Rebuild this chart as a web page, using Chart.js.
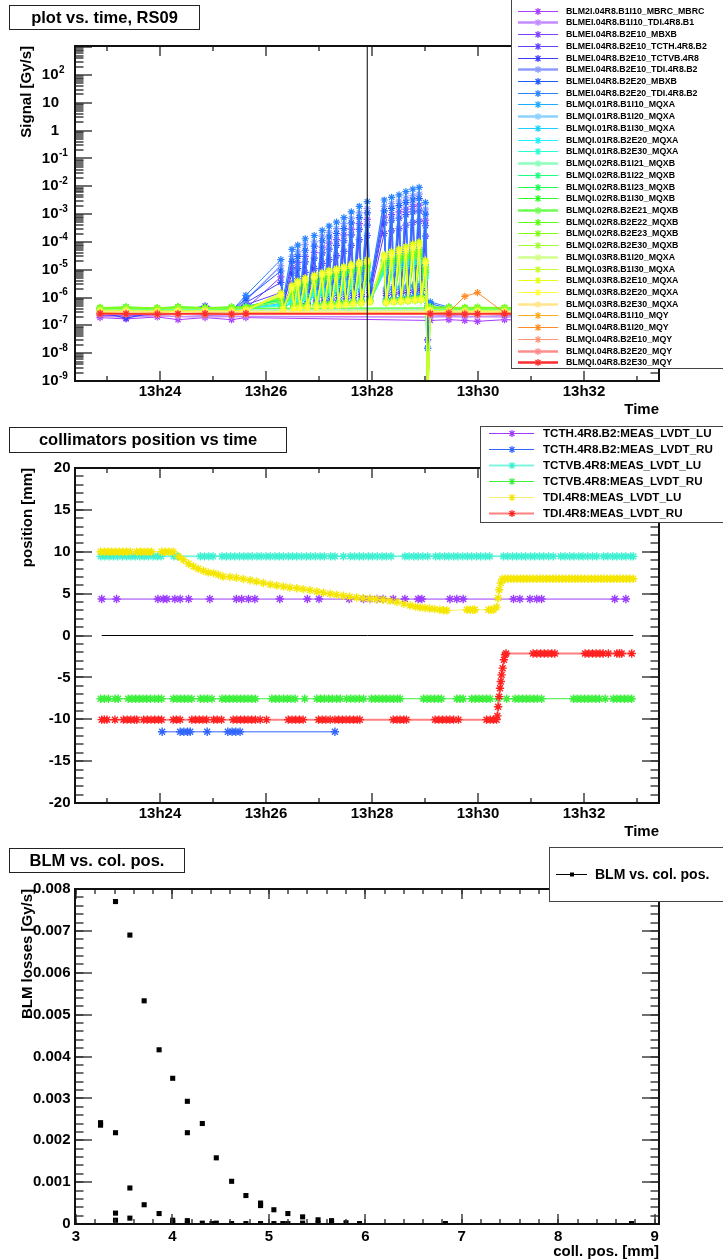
<!DOCTYPE html>
<html>
<head>
<meta charset="utf-8">
<script src="https://cdn.jsdelivr.net/npm/chart.js@4.4.0/dist/chart.umd.min.js"></script>
<style>
  html, body { margin: 0; padding: 0; background: #fff; }
  #wrap { position: relative; width: 723px; height: 1260px; overflow: hidden; }
  canvas { position: absolute; left: 0; }
</style>
</head>
<body>
<div id="wrap">
  <canvas id="sigChart" width="723" height="420" style="top:0"></canvas>
  <canvas id="posChart" width="723" height="420" style="top:420px"></canvas>
  <canvas id="lossChart" width="723" height="420" style="top:840px"></canvas>
</div>
<script>
// times are minutes after 13h00

// ---------- panel 1 : BLM signal vs time ----------
var blmNames = [
  'BLM2I.04R8.B1I10_MBRC_MBRC', 'BLMEI.04R8.B1I10_TDI.4R8.B1', 'BLMEI.04R8.B2E10_MBXB',
  'BLMEI.04R8.B2E10_TCTH.4R8.B2', 'BLMEI.04R8.B2E10_TCTVB.4R8', 'BLMEI.04R8.B2E10_TDI.4R8.B2',
  'BLMEI.04R8.B2E20_MBXB', 'BLMEI.04R8.B2E20_TDI.4R8.B2', 'BLMQI.01R8.B1I10_MQXA',
  'BLMQI.01R8.B1I20_MQXA', 'BLMQI.01R8.B1I30_MQXA', 'BLMQI.01R8.B2E20_MQXA', 'BLMQI.01R8.B2E30_MQXA',
  'BLMQI.02R8.B1I21_MQXB', 'BLMQI.02R8.B1I22_MQXB', 'BLMQI.02R8.B1I23_MQXB', 'BLMQI.02R8.B1I30_MQXB',
  'BLMQI.02R8.B2E21_MQXB', 'BLMQI.02R8.B2E22_MQXB', 'BLMQI.02R8.B2E23_MQXB', 'BLMQI.02R8.B2E30_MQXB',
  'BLMQI.03R8.B1I20_MQXA', 'BLMQI.03R8.B1I30_MQXA', 'BLMQI.03R8.B2E10_MQXA', 'BLMQI.03R8.B2E20_MQXA',
  'BLMQI.03R8.B2E30_MQXA', 'BLMQI.04R8.B1I10_MQY', 'BLMQI.04R8.B1I20_MQY', 'BLMQI.04R8.B2E10_MQY',
  'BLMQI.04R8.B2E20_MQY', 'BLMQI.04R8.B2E30_MQY'
];
var blmColors = ['#a83cff', '#c48cff', '#8040ff', '#6440ff', '#3c3cff', '#8c9cff', '#1e5aff', '#2a84ff',
  '#1eaaff', '#8cd2ff', '#1ed2ff', '#1ef0ff', '#28ffd2', '#8cffbe', '#1eff82', '#1eff50', '#32ff28',
  '#6eff50', '#5aff14', '#82ff14', '#a0ff32', '#d2ff8c', '#c8ff28', '#e6ff14', '#ffff3c', '#ffe68c',
  '#ffaa1e', '#ff8c28', '#ff9678', '#ff8c8c', '#ff2d2d'];
var blmWidths = [1, 2.5, 1, 1, 1, 2.5, 1, 1, 1, 2.5, 1, 1, 1, 2.5, 1, 1, 1, 2.5, 1, 1, 1, 2.5, 1, 1, 1, 2.5, 1, 1, 1, 2.5, 2.5];

var tBefore = [22.87, 23.36, 23.95, 24.34, 24.85, 25.35, 25.62];
var tPeak = [26.28, 26.49, 26.6, 26.74, 26.91, 27.06, 27.19, 27.33, 27.47, 27.61, 27.76, 27.91, 28.23, 28.37, 28.51, 28.64, 28.77, 28.89, 29.01];
var tTrough = [26.32, 26.53, 26.64, 26.78, 26.95, 27.1, 27.23, 27.37, 27.51, 27.65, 27.8, 27.96, 28.27, 28.41, 28.55, 28.68, 28.81, 28.93, 29.05];
var tAfter = [29.1, 29.45, 29.75, 29.99, 30.5, 31.1, 31.7, 32.3, 33.0];

var blmBefore = [
  [1.9e-7, 1.7e-7, 2.0e-7, 1.6e-7, 1.9e-7, 1.6e-7, 1.9e-7],
  [2.1e-7, 2.0e-7, 2.2e-7, 2.1e-7, 2.0e-7, 2.1e-7, 2.1e-7],
  [2.3e-7, 2.2e-7, 2.4e-7, 2.5e-7, 2.3e-7, 2.4e-7, 4.0e-7],
  [2.6e-7, 2.5e-7, 2.8e-7, 2.6e-7, 2.7e-7, 2.9e-7, 5.5e-7],
  [3.0e-7, 1.8e-7, 3.1e-7, 3.2e-7, 5.0e-7, 3.0e-7, 6.5e-7],
  [3.1e-7, 3.2e-7, 3.0e-7, 3.3e-7, 3.1e-7, 3.0e-7, 8.0e-7],
  [3.0e-7, 3.1e-7, 3.3e-7, 3.0e-7, 3.2e-7, 3.4e-7, 9.0e-7],
  [3.2e-7, 3.3e-7, 3.2e-7, 3.4e-7, 3.3e-7, 3.3e-7, 1.2e-6],
  [3.4e-7, 3.5e-7, 3.3e-7, 3.6e-7, 3.4e-7, 3.5e-7, 5.0e-7],
  [3.5e-7, 3.6e-7, 3.5e-7, 3.4e-7, 3.6e-7, 3.5e-7, 3.6e-7],
  [3.6e-7, 3.5e-7, 3.7e-7, 3.6e-7, 3.5e-7, 3.7e-7, 4.2e-7],
  [3.7e-7, 3.8e-7, 3.6e-7, 3.7e-7, 3.8e-7, 3.6e-7, 4.0e-7],
  [3.8e-7, 3.9e-7, 3.8e-7, 3.7e-7, 3.9e-7, 3.8e-7, 4.1e-7],
  [4.0e-7, 4.4e-7, 4.0e-7, 4.5e-7, 4.1e-7, 4.4e-7, 4.0e-7],
  [4.1e-7, 4.5e-7, 4.1e-7, 4.6e-7, 4.0e-7, 4.5e-7, 4.3e-7],
  [4.2e-7, 4.3e-7, 4.1e-7, 4.4e-7, 4.2e-7, 4.3e-7, 4.4e-7],
  [4.3e-7, 4.6e-7, 4.2e-7, 4.7e-7, 4.3e-7, 4.6e-7, 4.5e-7],
  [3.9e-7, 4.2e-7, 4.0e-7, 4.3e-7, 4.0e-7, 4.2e-7, 4.1e-7],
  [4.1e-7, 4.0e-7, 4.2e-7, 4.1e-7, 4.0e-7, 4.2e-7, 4.1e-7],
  [4.4e-7, 4.5e-7, 4.3e-7, 4.6e-7, 4.4e-7, 4.5e-7, 4.6e-7],
  [3.8e-7, 3.9e-7, 3.8e-7, 4.0e-7, 3.9e-7, 3.8e-7, 4.0e-7],
  [3.4e-7, 3.5e-7, 3.3e-7, 3.5e-7, 3.4e-7, 3.3e-7, 3.4e-7],
  [3.3e-7, 3.2e-7, 3.4e-7, 3.3e-7, 3.2e-7, 3.4e-7, 3.6e-7],
  [3.2e-7, 3.3e-7, 3.1e-7, 3.2e-7, 3.3e-7, 3.2e-7, 3.5e-7],
  [3.1e-7, 3.2e-7, 3.0e-7, 3.1e-7, 3.2e-7, 3.1e-7, 3.4e-7],
  [3.0e-7, 3.1e-7, 3.0e-7, 2.9e-7, 3.1e-7, 3.0e-7, 3.0e-7],
  [2.9e-7, 2.7e-7, 2.8e-7, 2.6e-7, 2.8e-7, 2.7e-7, 2.8e-7],
  [2.7e-7, 2.5e-7, 2.7e-7, 2.6e-7, 2.4e-7, 2.6e-7, 2.7e-7],
  [2.6e-7, 2.7e-7, 2.5e-7, 2.4e-7, 2.6e-7, 2.5e-7, 2.6e-7],
  [2.5e-7, 2.6e-7, 2.4e-7, 2.5e-7, 2.6e-7, 2.4e-7, 2.5e-7],
  [2.6e-7, 2.6e-7, 2.5e-7, 2.6e-7, 2.6e-7, 2.5e-7, 2.6e-7]
];

var blmPeak = [
  null,
  null,
  [5.5e-6, 1.2e-5, 1.8e-5, 3.0e-5, 4.2e-5, 6.5e-5, 9.0e-5, 1.2e-4, 1.8e-4, 2.9e-4, 4.5e-4, 6.5e-4, 7.8e-4, 9.5e-4, 1.2e-3, 1.5e-3, 1.9e-3, 2.1e-3, 6.0e-4],
  [1.5e-6, 3.2e-6, 4.8e-6, 8.0e-6, 1.1e-5, 1.7e-5, 2.3e-5, 3.2e-5, 4.6e-5, 7.5e-5, 1.2e-4, 1.7e-4, 2.0e-4, 2.5e-4, 3.0e-4, 4.0e-4, 5.0e-4, 5.5e-4, 1.6e-4],
  [3.5e-6, 7.5e-6, 1.1e-5, 1.9e-5, 2.6e-5, 4.0e-5, 5.5e-5, 7.5e-5, 1.1e-4, 1.8e-4, 2.8e-4, 4.0e-4, 4.8e-4, 6.0e-4, 7.2e-4, 9.5e-4, 1.2e-3, 1.3e-3, 3.8e-4],
  [1.4e-5, 3.0e-5, 4.5e-5, 8.0e-5, 1.0e-4, 1.6e-4, 2.2e-4, 3.0e-4, 4.5e-4, 7.0e-4, 1.1e-3, 1.6e-3, 1.9e-3, 2.4e-3, 2.9e-3, 3.8e-3, 4.6e-3, 5.2e-3, 1.5e-3],
  [9.0e-6, 2.0e-5, 3.0e-5, 5.0e-5, 7.0e-5, 1.1e-4, 1.5e-4, 2.0e-4, 3.0e-4, 4.8e-4, 7.5e-4, 1.1e-3, 1.3e-3, 1.6e-3, 2.0e-3, 2.6e-3, 3.2e-3, 3.6e-3, 1.0e-3],
  [2.3e-5, 5.4e-5, 7.6e-5, 1.3e-4, 1.7e-4, 2.6e-4, 3.7e-4, 5.1e-4, 7.4e-4, 1.2e-3, 1.9e-3, 2.8e-3, 3.2e-3, 4.0e-3, 4.9e-3, 6.4e-3, 7.9e-3, 9.1e-3, 2.6e-3],
  [8.0e-7, 1.1e-6, 1.5e-6, 2.0e-6, 2.4e-6, 3.2e-6, 4.0e-6, 5.0e-6, 6.5e-6, 8.5e-6, 1.1e-5, 1.5e-5, 2.0e-5, 2.6e-5, 3.2e-5, 4.0e-5, 4.8e-5, 5.2e-5, 1.5e-5],
  null,
  [6.0e-7, 8.0e-7, 1.1e-6, 1.4e-6, 1.7e-6, 2.1e-6, 2.6e-6, 3.2e-6, 4.0e-6, 5.0e-6, 6.2e-6, 8.0e-6, 1.1e-5, 1.4e-5, 1.7e-5, 2.0e-5, 2.4e-5, 2.6e-5, 8.0e-6],
  [5.5e-7, 7.0e-7, 9.0e-7, 1.2e-6, 1.5e-6, 1.8e-6, 2.2e-6, 2.7e-6, 3.3e-6, 4.1e-6, 5.0e-6, 6.5e-6, 9.0e-6, 1.1e-5, 1.3e-5, 1.6e-5, 1.9e-5, 2.1e-5, 6.0e-6],
  [5.0e-7, 6.5e-7, 8.0e-7, 1.0e-6, 1.3e-6, 1.6e-6, 1.9e-6, 2.3e-6, 2.8e-6, 3.4e-6, 4.2e-6, 5.4e-6, 7.5e-6, 9.0e-6, 1.1e-5, 1.3e-5, 1.6e-5, 1.8e-5, 5.0e-6],
  null,
  [9.0e-7, 1.6e-6, 2.4e-6, 3.0e-6, 3.8e-6, 5.0e-6, 5.5e-6, 6.5e-6, 8.0e-6, 9.5e-6, 1.1e-5, 1.3e-5, 1.6e-5, 2.0e-5, 2.4e-5, 2.8e-5, 3.2e-5, 3.4e-5, 9.0e-6],
  [8.0e-7, 1.3e-6, 2.0e-6, 2.6e-6, 3.4e-6, 4.2e-6, 5.0e-6, 6.0e-6, 7.0e-6, 8.5e-6, 1.0e-5, 1.2e-5, 1.5e-5, 1.8e-5, 2.1e-5, 2.5e-5, 2.9e-5, 3.1e-5, 8.0e-6],
  [1.0e-6, 1.9e-6, 2.8e-6, 3.6e-6, 4.6e-6, 5.8e-6, 7.0e-6, 8.0e-6, 1.0e-5, 1.2e-5, 1.4e-5, 1.7e-5, 2.2e-5, 2.6e-5, 3.0e-5, 3.6e-5, 4.2e-5, 4.5e-5, 1.2e-5],
  [7.0e-7, 1.1e-6, 1.7e-6, 2.2e-6, 2.9e-6, 3.6e-6, 4.4e-6, 5.2e-6, 6.2e-6, 7.5e-6, 8.8e-6, 1.0e-5, 1.3e-5, 1.6e-5, 1.9e-5, 2.2e-5, 2.6e-5, 2.8e-5, 7.0e-6],
  null,
  [9.5e-7, 1.7e-6, 2.6e-6, 3.3e-6, 4.2e-6, 5.4e-6, 6.4e-6, 7.6e-6, 9.2e-6, 1.1e-5, 1.3e-5, 1.5e-5, 1.9e-5, 2.3e-5, 2.7e-5, 3.2e-5, 3.7e-5, 4.0e-5, 1.0e-5],
  [1.1e-6, 2.1e-6, 3.0e-6, 4.0e-6, 5.0e-6, 6.3e-6, 7.5e-6, 9.0e-6, 1.1e-5, 1.3e-5, 1.5e-5, 1.8e-5, 2.4e-5, 2.9e-5, 3.4e-5, 4.0e-5, 4.6e-5, 5.0e-5, 1.3e-5],
  null,
  [1.3e-6, 2.5e-6, 3.5e-6, 4.6e-6, 5.8e-6, 7.2e-6, 8.5e-6, 1.0e-5, 1.2e-5, 1.4e-5, 1.7e-5, 2.0e-5, 3.2e-5, 4.0e-5, 5.0e-5, 6.0e-5, 7.5e-5, 9.0e-5, 2.0e-5],
  [1.5e-6, 2.8e-6, 4.0e-6, 5.2e-6, 6.5e-6, 8.0e-6, 9.5e-6, 1.1e-5, 1.3e-5, 1.6e-5, 1.9e-5, 2.3e-5, 3.6e-5, 4.5e-5, 5.6e-5, 6.8e-5, 8.5e-5, 1.0e-4, 2.2e-5],
  [1.2e-6, 2.2e-6, 3.2e-6, 4.2e-6, 5.3e-6, 6.6e-6, 7.8e-6, 9.2e-6, 1.1e-5, 1.3e-5, 1.6e-5, 1.9e-5, 2.8e-5, 3.4e-5, 4.2e-5, 5.0e-5, 6.0e-5, 7.0e-5, 1.7e-5],
  null, null, null, null, null, null
];

var blmTrough = [
  null,
  null,
  [5e-7, 6e-7, 6e-7, 7e-7, 8e-7, 8e-7, 9e-7, 1.0e-6, 1.1e-6, 1.2e-6, 1.3e-6, 1.8e-6, 1.4e-6, 1.5e-6, 1.6e-6, 1.8e-6, 1.9e-6, 2.1e-6, 4e-7],
  [4e-7, 4.5e-7, 5e-7, 5e-7, 5.5e-7, 6e-7, 6e-7, 6.5e-7, 7e-7, 7.5e-7, 8e-7, 1.1e-6, 9e-7, 1.0e-6, 1.0e-6, 1.1e-6, 1.2e-6, 1.3e-6, 4e-7],
  [5e-7, 5e-7, 6e-7, 6e-7, 7e-7, 7e-7, 8e-7, 8e-7, 9e-7, 1.0e-6, 1.1e-6, 1.5e-6, 1.2e-6, 1.3e-6, 1.4e-6, 1.5e-6, 1.6e-6, 1.8e-6, 3e-8],
  [7e-7, 8e-7, 9e-7, 1.0e-6, 1.1e-6, 1.2e-6, 1.3e-6, 1.4e-6, 1.5e-6, 1.6e-6, 1.8e-6, 2.6e-6, 2.0e-6, 2.1e-6, 2.3e-6, 2.5e-6, 2.7e-6, 2.9e-6, 6e-7],
  [6e-7, 7e-7, 8e-7, 9e-7, 1.0e-6, 1.0e-6, 1.1e-6, 1.2e-6, 1.3e-6, 1.4e-6, 1.6e-6, 2.2e-6, 1.7e-6, 1.9e-6, 2.0e-6, 2.2e-6, 2.4e-6, 2.6e-6, 1.5e-8],
  [8e-7, 9e-7, 1.0e-6, 1.1e-6, 1.2e-6, 1.3e-6, 1.4e-6, 1.5e-6, 1.6e-6, 1.8e-6, 2.0e-6, 3.0e-6, 2.2e-6, 2.4e-6, 2.6e-6, 2.8e-6, 3.0e-6, 3.2e-6, 1.5e-8],
  [4.5e-7, 5e-7, 5e-7, 5.5e-7, 6e-7, 6e-7, 6.5e-7, 7e-7, 7e-7, 7.5e-7, 8e-7, 1.0e-6, 9e-7, 9.5e-7, 1.0e-6, 1.1e-6, 1.1e-6, 1.2e-6, 5e-7],
  null,
  [4.2e-7, 4.5e-7, 4.8e-7, 5e-7, 5.2e-7, 5.5e-7, 5.8e-7, 6e-7, 6.3e-7, 6.6e-7, 7e-7, 8e-7, 7.5e-7, 8e-7, 8.5e-7, 9e-7, 9.5e-7, 1.0e-6, 4.5e-7],
  [4.2e-7, 4.4e-7, 4.6e-7, 4.8e-7, 5e-7, 5.2e-7, 5.4e-7, 5.6e-7, 5.9e-7, 6.2e-7, 6.5e-7, 7.5e-7, 7e-7, 7.4e-7, 7.8e-7, 8.2e-7, 8.6e-7, 9e-7, 1e-10],
  [4.3e-7, 4.5e-7, 4.6e-7, 4.8e-7, 5e-7, 5.1e-7, 5.3e-7, 5.5e-7, 5.7e-7, 6e-7, 6.3e-7, 7e-7, 6.6e-7, 7e-7, 7.3e-7, 7.7e-7, 8e-7, 8.4e-7, 4.2e-7],
  null,
  [4.6e-7, 4.8e-7, 5e-7, 5.2e-7, 5.4e-7, 5.6e-7, 5.8e-7, 6e-7, 6.2e-7, 6.5e-7, 6.8e-7, 7.5e-7, 7e-7, 7.4e-7, 7.8e-7, 8.2e-7, 8.6e-7, 9e-7, 1e-10],
  [4.5e-7, 4.6e-7, 4.8e-7, 5e-7, 5.1e-7, 5.3e-7, 5.5e-7, 5.7e-7, 5.9e-7, 6.1e-7, 6.4e-7, 7e-7, 6.6e-7, 6.9e-7, 7.2e-7, 7.6e-7, 8e-7, 8.4e-7, 4.6e-7],
  [4.8e-7, 5e-7, 5.2e-7, 5.5e-7, 5.7e-7, 6e-7, 6.2e-7, 6.5e-7, 6.8e-7, 7.1e-7, 7.5e-7, 8.5e-7, 7.8e-7, 8.2e-7, 8.6e-7, 9e-7, 9.5e-7, 1.0e-6, 1e-10],
  [4.4e-7, 4.5e-7, 4.7e-7, 4.9e-7, 5e-7, 5.2e-7, 5.4e-7, 5.5e-7, 5.7e-7, 5.9e-7, 6.2e-7, 6.8e-7, 6.4e-7, 6.7e-7, 7e-7, 7.3e-7, 7.6e-7, 8e-7, 4.3e-7],
  null,
  [4.8e-7, 5e-7, 5.2e-7, 5.4e-7, 5.6e-7, 5.8e-7, 6e-7, 6.3e-7, 6.6e-7, 6.9e-7, 7.2e-7, 8e-7, 7.5e-7, 7.9e-7, 8.3e-7, 8.7e-7, 9.2e-7, 9.6e-7, 4.7e-7],
  [4.2e-7, 4.4e-7, 4.6e-7, 4.8e-7, 5e-7, 5.2e-7, 5.4e-7, 5.7e-7, 6e-7, 6.3e-7, 6.6e-7, 7.4e-7, 6.9e-7, 7.3e-7, 7.7e-7, 8.1e-7, 8.5e-7, 8.9e-7, 1e-10],
  null,
  [3.8e-7, 4.0e-7, 4.2e-7, 4.4e-7, 4.6e-7, 4.8e-7, 5e-7, 5.3e-7, 5.6e-7, 5.9e-7, 6.2e-7, 7e-7, 6.5e-7, 6.9e-7, 7.3e-7, 7.7e-7, 8.1e-7, 8.5e-7, 1e-10],
  [3.7e-7, 3.9e-7, 4.1e-7, 4.3e-7, 4.5e-7, 4.7e-7, 4.9e-7, 5.2e-7, 5.5e-7, 5.8e-7, 6.1e-7, 6.8e-7, 6.4e-7, 6.8e-7, 7.2e-7, 7.6e-7, 8e-7, 8.4e-7, 1e-10],
  [3.6e-7, 3.8e-7, 4.0e-7, 4.2e-7, 4.4e-7, 4.6e-7, 4.8e-7, 5.1e-7, 5.4e-7, 5.7e-7, 6.0e-7, 6.7e-7, 6.3e-7, 6.7e-7, 7.1e-7, 7.5e-7, 7.9e-7, 8.3e-7, 3.6e-7],
  null, null, null, null, null, null
];

var blmAfter = [
  [1.5e-7, 1.6e-7, 1.5e-7, 1.4e-7, 1.6e-7, 1.5e-7, 1.6e-7, 1.5e-7, 1.6e-7],
  [2.0e-7, 2.1e-7, 2.0e-7, 2.1e-7, 2.0e-7, 2.1e-7, 2.0e-7, 2.1e-7, 2.0e-7],
  [2.4e-7, 2.3e-7, 2.4e-7, 2.5e-7, 2.3e-7, 2.4e-7, 2.3e-7, 2.4e-7, 2.4e-7],
  [2.6e-7, 2.7e-7, 2.6e-7, 2.5e-7, 2.7e-7, 2.6e-7, 2.7e-7, 2.6e-7, 2.6e-7],
  [3.0e-7, 2.9e-7, 3.0e-7, 3.1e-7, 2.9e-7, 3.0e-7, 3.0e-7, 2.9e-7, 3.0e-7],
  [5.0e-7, 3.3e-7, 3.1e-7, 3.0e-7, 3.2e-7, 3.1e-7, 3.0e-7, 3.1e-7, 3.1e-7],
  [6.0e-7, 4.0e-7, 3.2e-7, 3.1e-7, 3.2e-7, 3.0e-7, 3.2e-7, 3.1e-7, 3.2e-7],
  [7.0e-7, 4.5e-7, 3.4e-7, 3.3e-7, 3.2e-7, 3.3e-7, 3.2e-7, 3.3e-7, 3.3e-7],
  [4.5e-7, 3.6e-7, 3.5e-7, 3.4e-7, 3.5e-7, 3.6e-7, 3.5e-7, 3.4e-7, 3.5e-7],
  [3.6e-7, 3.5e-7, 3.6e-7, 3.5e-7, 3.4e-7, 3.6e-7, 3.5e-7, 3.6e-7, 3.5e-7],
  [3.8e-7, 3.7e-7, 3.6e-7, 3.7e-7, 3.6e-7, 3.7e-7, 3.6e-7, 3.7e-7, 3.6e-7],
  [3.9e-7, 3.7e-7, 3.8e-7, 3.7e-7, 3.8e-7, 3.7e-7, 3.8e-7, 3.7e-7, 3.8e-7],
  [4.0e-7, 3.9e-7, 3.8e-7, 3.9e-7, 3.8e-7, 3.9e-7, 3.8e-7, 3.9e-7, 3.8e-7],
  [4.2e-7, 4.1e-7, 4.0e-7, 4.1e-7, 4.0e-7, 4.1e-7, 4.0e-7, 4.1e-7, 4.0e-7],
  [4.3e-7, 4.2e-7, 4.1e-7, 4.2e-7, 4.1e-7, 4.2e-7, 4.1e-7, 4.2e-7, 4.1e-7],
  [4.4e-7, 4.3e-7, 4.2e-7, 4.3e-7, 4.2e-7, 4.3e-7, 4.2e-7, 4.3e-7, 4.2e-7],
  [4.5e-7, 4.4e-7, 4.3e-7, 4.4e-7, 4.3e-7, 4.4e-7, 4.3e-7, 4.4e-7, 4.3e-7],
  [4.1e-7, 4.0e-7, 4.1e-7, 4.0e-7, 4.1e-7, 4.0e-7, 4.1e-7, 4.0e-7, 4.1e-7],
  [4.2e-7, 4.1e-7, 4.2e-7, 4.1e-7, 4.2e-7, 4.1e-7, 4.2e-7, 4.1e-7, 4.2e-7],
  [4.6e-7, 4.5e-7, 4.4e-7, 4.5e-7, 4.4e-7, 4.5e-7, 4.4e-7, 4.5e-7, 4.4e-7],
  [4.0e-7, 3.9e-7, 3.8e-7, 3.9e-7, 3.8e-7, 3.9e-7, 3.8e-7, 3.9e-7, 3.8e-7],
  [3.5e-7, 3.4e-7, 3.3e-7, 3.4e-7, 3.3e-7, 3.4e-7, 3.3e-7, 3.4e-7, 3.3e-7],
  [3.4e-7, 3.3e-7, 3.2e-7, 3.3e-7, 3.2e-7, 3.3e-7, 3.2e-7, 3.3e-7, 3.2e-7],
  [3.3e-7, 3.2e-7, 3.1e-7, 3.2e-7, 3.1e-7, 3.2e-7, 3.1e-7, 3.2e-7, 3.1e-7],
  [3.2e-7, 3.1e-7, 3.0e-7, 3.1e-7, 3.0e-7, 3.1e-7, 3.0e-7, 3.1e-7, 3.0e-7],
  [3.0e-7, 3.1e-7, 3.0e-7, 2.9e-7, 3.0e-7, 3.1e-7, 3.0e-7, 2.9e-7, 3.0e-7],
  [2.8e-7, 2.7e-7, 2.8e-7, 2.7e-7, 2.8e-7, 2.7e-7, 2.8e-7, 2.7e-7, 2.8e-7],
  [2.6e-7, 3.0e-7, 1.1e-6, 1.5e-6, 2.8e-7, 2.6e-7, 2.7e-7, 2.6e-7, 2.7e-7],
  [2.5e-7, 2.6e-7, 2.5e-7, 2.6e-7, 2.5e-7, 2.6e-7, 2.5e-7, 2.6e-7, 2.5e-7],
  [2.5e-7, 2.4e-7, 2.5e-7, 2.4e-7, 2.5e-7, 2.4e-7, 2.5e-7, 2.4e-7, 2.5e-7],
  [2.6e-7, 2.6e-7, 2.5e-7, 2.6e-7, 2.6e-7, 2.5e-7, 2.6e-7, 2.6e-7, 2.5e-7]
];

var markerTime = [27.91, 27.91];
var markerSignal = [1e-9, 1.1e3];

var timeMajor = [24, 26, 28, 30, 32];
var timeLabels = ['13h24', '13h26', '13h28', '13h30', '13h32'];
var timeMinor = [23, 25, 27, 29, 31, 33];
var signalMajor = [1e-9, 1e-8, 1e-7, 1e-6, 1e-5, 1e-4, 1e-3, 1e-2, 1e-1, 1, 10, 100, 1000];
var signalLabels = ['10^-9', '10^-8', '10^-7', '10^-6', '10^-5', '10^-4', '10^-3', '10^-2', '10^-1', '1', '10', '10^2', ''];

// ---------- panel 2 : collimator positions ----------
var posNames = ['TCTH.4R8.B2:MEAS_LVDT_LU', 'TCTH.4R8.B2:MEAS_LVDT_RU', 'TCTVB.4R8:MEAS_LVDT_LU',
  'TCTVB.4R8:MEAS_LVDT_RU', 'TDI.4R8:MEAS_LVDT_LU', 'TDI.4R8:MEAS_LVDT_RU'];

var tcthLuTime = [22.9, 23.18, 23.96, 24.06, 24.13, 24.28, 24.38, 24.54, 24.94, 25.44, 25.54, 25.67, 25.79, 26.26,
  26.78, 27.0, 27.57, 27.84, 27.96, 28.09, 28.21, 28.4, 28.62, 28.87, 28.94, 29.47, 29.6, 29.72, 30.67, 30.79,
  30.98, 31.11, 31.2, 32.58, 32.79];
var tcthLuPos = [4.35, 4.35, 4.35, 4.35, 4.35, 4.35, 4.35, 4.35, 4.35, 4.35, 4.35, 4.35, 4.35, 4.35,
  4.35, 4.35, 4.35, 4.35, 4.35, 4.35, 4.35, 4.35, 4.35, 4.35, 4.35, 4.35, 4.35, 4.35, 4.35, 4.35,
  4.35, 4.35, 4.35, 4.35, 4.35];

var tcthRuTime = [24.04, 24.38, 24.45, 24.52, 24.57, 24.89, 25.28, 25.36, 25.43, 25.51, 27.3];
var tcthRuPos = [-11.5, -11.5, -11.5, -11.5, -11.5, -11.5, -11.5, -11.5, -11.5, -11.5, -11.5];

var tctvbLuTime = [22.88, 22.96, 23.04, 23.12, 23.2, 23.29, 23.37, 23.45, 23.53, 23.62, 23.7, 23.78, 23.87, 23.95,
  24.02, 24.26, 24.33, 24.76, 24.84, 24.92, 25.0, 25.17, 25.25, 25.33, 25.41, 25.5, 25.58, 25.66, 25.74, 25.83,
  25.91, 26.0, 26.08, 26.17, 26.25, 26.33, 26.42, 26.5, 26.58, 26.67, 26.76, 26.84, 26.93, 27.02, 27.1, 27.22,
  27.3, 27.46, 27.59, 27.67, 27.76, 27.84, 27.93, 28.01, 28.1, 28.19, 28.27, 28.36, 28.62, 28.7, 28.79, 28.87,
  28.96, 29.05, 29.2, 29.28, 29.37, 29.45, 29.54, 29.62, 29.71, 29.8, 29.88, 29.97, 30.05, 30.14, 30.22, 30.48,
  30.56, 30.65, 30.73, 30.82, 30.9, 30.99, 31.07, 31.16, 31.24, 31.33, 31.42, 31.56, 31.64, 31.73, 31.81, 31.9,
  31.98, 32.07, 32.16, 32.24, 32.37, 32.45, 32.54, 32.62, 32.71, 32.79, 32.88, 32.93];
var tctvbLuPos = [9.45, 9.45, 9.45, 9.45, 9.45, 9.45, 9.45, 9.45, 9.45, 9.45, 9.45, 9.45, 9.45, 9.45,
  9.45, 9.45, 9.45, 9.45, 9.45, 9.45, 9.45, 9.45, 9.45, 9.45, 9.45, 9.45, 9.45, 9.45, 9.45, 9.45,
  9.45, 9.45, 9.45, 9.45, 9.45, 9.45, 9.45, 9.45, 9.45, 9.45, 9.45, 9.45, 9.45, 9.45, 9.45, 9.45,
  9.45, 9.45, 9.45, 9.45, 9.45, 9.45, 9.45, 9.45, 9.45, 9.45, 9.45, 9.45, 9.45, 9.45, 9.45, 9.45,
  9.45, 9.45, 9.45, 9.45, 9.45, 9.45, 9.45, 9.45, 9.45, 9.45, 9.45, 9.45, 9.45, 9.45, 9.45, 9.45,
  9.45, 9.45, 9.45, 9.45, 9.45, 9.45, 9.45, 9.45, 9.45, 9.45, 9.45, 9.45, 9.45, 9.45, 9.45, 9.45,
  9.45, 9.45, 9.45, 9.45, 9.45, 9.45, 9.45, 9.45, 9.45, 9.45, 9.45, 9.45];

var tctvbRuTime = [22.88, 22.95, 23.03, 23.15, 23.21, 23.4, 23.47, 23.54, 23.61, 23.68, 23.75, 23.82, 23.9, 23.97,
  24.03, 24.25, 24.32, 24.39, 24.46, 24.53, 24.6, 24.76, 24.83, 24.9, 24.98, 25.17, 25.24, 25.31, 25.38, 25.45,
  25.52, 25.59, 25.66, 25.73, 25.8, 26.11, 26.18, 26.25, 26.33, 26.4, 26.47, 26.55, 26.73, 26.96, 27.03, 27.1,
  27.18, 27.25, 27.33, 27.4, 27.52, 27.6, 27.68, 27.76, 27.84, 27.99, 28.06, 28.13, 28.2, 28.27, 28.34, 28.41,
  28.48, 28.53, 28.97, 29.04, 29.11, 29.18, 29.25, 29.31, 29.6, 29.66, 29.72, 29.88, 29.95, 30.02, 30.09, 30.16,
  30.23, 30.38, 30.54, 30.7, 30.77, 30.84, 30.91, 30.98, 31.05, 31.12, 31.2, 31.8, 31.87, 31.94, 32.01, 32.08,
  32.15, 32.22, 32.29, 32.4, 32.55, 32.62, 32.69, 32.76, 32.83, 32.9];
var tctvbRuPos = [-7.55, -7.55, -7.55, -7.55, -7.55, -7.55, -7.55, -7.55, -7.55, -7.55, -7.55, -7.55, -7.55, -7.55,
  -7.55, -7.55, -7.55, -7.55, -7.55, -7.55, -7.55, -7.55, -7.55, -7.55, -7.55, -7.55, -7.55, -7.55, -7.55, -7.55,
  -7.55, -7.55, -7.55, -7.55, -7.55, -7.55, -7.55, -7.55, -7.55, -7.55, -7.55, -7.55, -7.55, -7.55, -7.55, -7.55,
  -7.55, -7.55, -7.55, -7.55, -7.55, -7.55, -7.55, -7.55, -7.55, -7.55, -7.55, -7.55, -7.55, -7.55, -7.55, -7.55,
  -7.55, -7.55, -7.55, -7.55, -7.55, -7.55, -7.55, -7.55, -7.55, -7.55, -7.55, -7.55, -7.55, -7.55, -7.55, -7.55,
  -7.55, -7.55, -7.55, -7.55, -7.55, -7.55, -7.55, -7.55, -7.55, -7.55, -7.55, -7.55, -7.55, -7.55, -7.55, -7.55,
  -7.55, -7.55, -7.55, -7.55, -7.55, -7.55, -7.55, -7.55, -7.55, -7.55];

var tdiLuTime = [22.88, 22.95, 23.02, 23.09, 23.16, 23.23, 23.3, 23.37, 23.44, 23.56, 23.63, 23.7, 23.77, 23.84,
  24.03, 24.1, 24.17, 24.25, 24.35, 24.44, 24.54, 24.63, 24.72, 24.82, 24.91, 25.01, 25.1, 25.19, 25.32, 25.44,
  25.57, 25.7, 25.82, 25.95, 26.08, 26.2, 26.33, 26.45, 26.58, 26.7, 26.83, 26.96, 27.08, 27.21, 27.33, 27.46,
  27.58, 27.71, 27.83, 27.96, 28.08, 28.21, 28.34, 28.47, 28.6, 28.72, 28.82, 28.91, 29.0, 29.09, 29.18, 29.28,
  29.35, 29.41, 29.79, 29.85, 29.9, 29.94, 30.2, 30.25, 30.29, 30.35, 30.38, 30.4, 30.43, 30.46, 30.51, 30.56,
  30.62, 30.68, 30.74, 30.8, 30.86, 30.92, 30.98, 31.04, 31.11, 31.17, 31.23, 31.29, 31.35, 31.41, 31.47, 31.53,
  31.59, 31.65, 31.71, 31.77, 31.83, 31.89, 31.95, 32.01, 32.08, 32.14, 32.2, 32.26, 32.32, 32.38, 32.44, 32.5,
  32.56, 32.62, 32.68, 32.74, 32.8, 32.86, 32.93];
var tdiLuPos = [10.0, 10.0, 10.0, 10.0, 10.0, 10.0, 10.0, 10.0, 10.0, 10.0, 10.0, 10.0, 10.0, 10.0,
  10.0, 10.0, 10.0, 10.0, 9.44, 9.05, 8.57, 8.25, 7.97, 7.73, 7.53, 7.45, 7.25, 7.05, 6.98, 6.9,
  6.74, 6.6, 6.45, 6.26, 6.1, 5.97, 5.85, 5.74, 5.64, 5.54, 5.4, 5.26, 5.12, 4.98, 4.86, 4.74,
  4.64, 4.54, 4.46, 4.38, 4.32, 4.27, 4.13, 3.99, 3.78, 3.58, 3.45, 3.35, 3.28, 3.23, 3.15, 3.07,
  3.02, 2.99, 3.07, 3.07, 3.07, 3.07, 3.07, 3.07, 3.07, 3.39, 4.47, 5.46, 6.26, 6.74, 6.77, 6.77,
  6.77, 6.77, 6.77, 6.77, 6.77, 6.77, 6.77, 6.77, 6.77, 6.77, 6.77, 6.77, 6.77, 6.77, 6.77, 6.77,
  6.77, 6.77, 6.77, 6.77, 6.77, 6.77, 6.77, 6.77, 6.77, 6.77, 6.77, 6.77, 6.77, 6.77, 6.77, 6.77,
  6.77, 6.77, 6.77, 6.77, 6.77, 6.77, 6.77];

var tdiRuTime = [22.9, 22.95, 23.0, 23.15, 23.31, 23.38, 23.45, 23.52, 23.56, 23.69, 23.76, 23.83, 23.9, 23.97,
  24.03, 24.25, 24.31, 24.38, 24.6, 24.67, 24.74, 24.81, 24.88, 25.01, 25.08, 25.16, 25.38, 25.45, 25.52, 25.59,
  25.66, 25.73, 25.8, 25.89, 26.01, 26.42, 26.49, 26.56, 26.63, 26.7, 26.99, 27.06, 27.13, 27.21, 27.3, 27.37,
  27.44, 27.51, 27.58, 27.65, 27.72, 27.77, 28.4, 28.47, 28.53, 28.6, 28.65, 29.19, 29.26, 29.33, 29.4, 29.47,
  29.54, 29.63, 30.16, 30.23, 30.29, 30.35, 30.365, 30.38, 30.4, 30.415, 30.43, 30.445, 30.465, 30.49, 30.51, 30.53,
  31.04, 31.11, 31.18, 31.25, 31.32, 31.39, 31.45, 32.02, 32.09, 32.16, 32.23, 32.3, 32.36, 32.46, 32.62, 32.67,
  32.71, 32.9];
var tdiRuPos = [-10.05, -10.05, -10.05, -10.05, -10.05, -10.05, -10.05, -10.05, -10.05, -10.05, -10.05, -10.05, -10.05, -10.05,
  -10.05, -10.05, -10.05, -10.05, -10.05, -10.05, -10.05, -10.05, -10.05, -10.05, -10.05, -10.05, -10.05, -10.05, -10.05, -10.05,
  -10.05, -10.05, -10.05, -10.05, -10.05, -10.05, -10.05, -10.05, -10.05, -10.05, -10.05, -10.05, -10.05, -10.05, -10.05, -10.05,
  -10.05, -10.05, -10.05, -10.05, -10.05, -10.05, -10.05, -10.05, -10.05, -10.05, -10.05, -10.05, -10.05, -10.05, -10.05, -10.05,
  -10.05, -10.05, -10.05, -10.05, -10.05, -10.05, -9.6, -8.5, -7.3, -6.3, -5.5, -4.7, -3.9, -2.9, -2.3, -2.15,
  -2.15, -2.15, -2.15, -2.15, -2.15, -2.15, -2.15, -2.15, -2.15, -2.15, -2.15, -2.15, -2.15, -2.15, -2.15, -2.15,
  -2.15, -2.15];

var zeroTime = [22.9, 32.93];
var zeroPos = [0, 0];

var posMajor = [-20, -15, -10, -5, 0, 5, 10, 15, 20];
var posLabels = ['-20', '-15', '-10', '-5', '0', '5', '10', '15', '20'];

// ---------- panel 3 : BLM losses vs TDI position ----------
var collPos = [3.255, 3.255, 3.41, 3.41, 3.41, 3.41, 3.559, 3.559, 3.559, 3.707, 3.707, 3.862, 3.862, 4.003, 4.003,
  4.003, 4.155, 4.155, 4.155, 4.155, 4.31, 4.31, 4.41, 4.455, 4.455, 4.614, 4.614, 4.762, 4.762, 4.914, 4.914,
  4.914, 5.052, 5.052, 5.145, 5.197, 5.197, 5.35, 5.35, 5.51, 5.51, 5.65, 5.65, 5.8, 5.94, 6.83, 8.76];
var blmLoss = [2.42e-3, 2.36e-3, 7.70e-3, 2.18e-3, 0.26e-3, 0.09e-3, 6.90e-3, 0.86e-3, 0.14e-3, 5.33e-3, 0.46e-3,
  4.16e-3, 0.25e-3, 3.48e-3, 0.09e-3, 0.04e-3, 2.93e-3, 2.18e-3, 0.08e-3, 0.02e-3, 2.40e-3, 0.02e-3, 0.01e-3,
  1.58e-3, 0.02e-3, 1.02e-3, 0.01e-3, 0.68e-3, 0.01e-3, 0.50e-3, 0.44e-3, 0.01e-3, 0.34e-3, 0.01e-3, 0.01e-3,
  0.25e-3, 0.01e-3, 0.17e-3, 0.02e-3, 0.10e-3, 0.01e-3, 0.08e-3, 0.01e-3, 0.03e-3, 0.01e-3, 0.01e-3, 0.01e-3];

var lossMajor = [0, 0.001, 0.002, 0.003, 0.004, 0.005, 0.006, 0.007, 0.008];
var lossLabels = ['0', '0.001', '0.002', '0.003', '0.004', '0.005', '0.006', '0.007', '0.008'];
var collMajor = [3, 4, 5, 6, 7, 8, 9];
var collLabels = ['3', '4', '5', '6', '7', '8', '9'];

// ---------- drawing helpers ----------
var FAMILY = '"Liberation Sans", Arial, Helvetica, sans-serif';
function bold(px) { return 'bold ' + px + 'px ' + FAMILY; }

function drawStar(ctx, x, y, r) {
  var d = r * 0.7071;
  ctx.beginPath();
  ctx.moveTo(x - r, y); ctx.lineTo(x + r, y);
  ctx.moveTo(x, y - r); ctx.lineTo(x, y + r);
  ctx.moveTo(x - d, y - d); ctx.lineTo(x + d, y + d);
  ctx.moveTo(x - d, y + d); ctx.lineTo(x + d, y - d);
  ctx.stroke();
}

function minorSteps(from, to, step) {
  var out = [];
  var n = Math.round((to - from) / step);
  for (var k = 0; k <= n; k++) out.push(from + k * step);
  return out;
}

function logMinors(e0, e1) {
  var out = [];
  for (var e = e0; e <= e1; e++) for (var m = 2; m <= 9; m++) out.push(m * Math.pow(10, e));
  return out;
}

// frame, ticks, labels, title and legend per canvas (ROOT pad look)
var padConfig = {};

var rootPad = {
  id: 'rootPad',
  afterDraw: function (chart) {
    var o = padConfig[chart.canvas.id];
    if (!o) return;
    var ctx = chart.ctx, a = chart.chartArea, xs = chart.scales.x, ys = chart.scales.y;
    var L = Math.round(a.left), R = Math.round(a.right), T = Math.round(a.top), B = Math.round(a.bottom);
    function inX(v) { var e = (xs.max - xs.min) * 1e-6; return v >= xs.min - e && v <= xs.max + e; }
    function inY(v) { return v >= ys.min - Math.abs(ys.min) * 1e-6 - 1e-12 && v <= ys.max + Math.abs(ys.max) * 1e-6 + 1e-12; }

    ctx.save();
    // ticks: inside the frame on all four sides
    ctx.fillStyle = '#333';
    o.xTicks.forEach(function (tk) {
      if (!inX(tk[0])) return;
      var p = Math.round(xs.getPixelForValue(tk[0]));
      ctx.fillRect(p - 0.7, B - tk[1], 1.4, tk[1]);
      ctx.fillRect(p - 0.7, T, 1.4, tk[1]);
    });
    o.yTicks.forEach(function (tk) {
      if (!inY(tk[0])) return;
      var p = Math.round(ys.getPixelForValue(tk[0]));
      ctx.fillRect(L, p - 0.7, tk[1], 1.4);
      ctx.fillRect(R - tk[1], p - 0.7, tk[1], 1.4);
    });
    // frame
    ctx.fillStyle = '#111';
    ctx.fillRect(L - 1, T - 1, R - L + 2, 2);
    ctx.fillRect(L - 1, B - 1, R - L + 2, 2);
    ctx.fillRect(L - 1, T - 1, 2, B - T + 2);
    ctx.fillRect(R - 1, T - 1, 2, B - T + 2);

    ctx.fillStyle = '#000';
    ctx.textBaseline = 'middle';
    ctx.font = bold(15);
    ctx.textAlign = 'center';
    o.xMajor.forEach(function (val, i) {
      if (inX(val)) ctx.fillText(o.xLabels[i], xs.getPixelForValue(val), B + o.xLabelGap);
    });
    o.yMajor.forEach(function (val, i) {
      var txt = o.yLabels[i];
      if (!txt || !inY(val)) return;
      var py = ys.getPixelForValue(val);
      if (txt.indexOf('^') >= 0) {
        var parts = txt.split('^');
        ctx.font = bold(15); ctx.textAlign = 'right';
        ctx.fillText(parts[0], o.yLabelRight, py);
        ctx.font = bold(10); ctx.textAlign = 'left';
        ctx.fillText(parts[1], o.yLabelRight + 0.5, py - 5);
      } else {
        ctx.font = bold(15); ctx.textAlign = 'right';
        ctx.fillText(txt, o.yLabelRight + (o.plainShift || 0), py);
      }
    });

    // axis titles
    ctx.font = bold(15);
    ctx.textAlign = 'right';
    ctx.fillText(o.xTitle, a.right, o.xTitleY);
    ctx.save();
    ctx.translate(o.yTitleX, a.top);
    ctx.rotate(-Math.PI / 2);
    ctx.textAlign = 'right';
    ctx.fillText(o.yTitle, 0, 0);
    ctx.restore();

    // title box
    var t = o.titleBox;
    ctx.lineWidth = 1;
    ctx.fillStyle = '#fff';
    ctx.fillRect(t[0], t[1], t[2], t[3]);
    ctx.strokeStyle = '#222';
    ctx.strokeRect(t[0], t[1], t[2], t[3]);
    ctx.fillStyle = '#000';
    ctx.font = bold(16.5);
    ctx.textAlign = 'center';
    ctx.fillText(o.title, t[0] + t[2] / 2, t[1] + t[3] / 2 + 0.5);

    // legend
    var G = o.legend;
    ctx.fillStyle = '#fff';
    ctx.fillRect(G.box[0], G.box[1], G.box[2], G.box[3]);
    ctx.strokeStyle = '#444';
    ctx.strokeRect(G.box[0], G.box[1], G.box[2], G.box[3]);
    ctx.font = bold(G.font);
    ctx.textAlign = 'left';
    G.rows.forEach(function (r, i) {
      var y = Math.round(G.y0 + i * G.dy);
      ctx.strokeStyle = r.line;
      ctx.lineWidth = r.width;
      ctx.beginPath();
      ctx.moveTo(G.lineX[0], y + 0.5);
      ctx.lineTo(G.lineX[1], y + 0.5);
      ctx.stroke();
      ctx.lineWidth = 1.2;
      if (G.marker === 'square') {
        ctx.fillStyle = r.mark;
        ctx.fillRect(G.markX - 2, y - 1.5, 4, 4);
      } else {
        ctx.strokeStyle = r.mark;
        drawStar(ctx, G.markX, y + 0.5, G.markR);
      }
      ctx.fillStyle = '#000';
      ctx.fillText(r.label, G.textX, y + 1);
    });
    ctx.restore();
  }
};

function tickList(major, minor, majorLen, minorLen) {
  return minor.map(function (v) { return [v, minorLen]; }).concat(major.map(function (v) { return [v, majorLen]; }));
}

function xy(times, vals) {
  return times.map(function (t, k) { return { x: t, y: vals[k] }; });
}

function blmSeries(i) {
  var pts = [];
  tBefore.forEach(function (t, k) { pts.push({ x: t, y: blmBefore[i][k] }); });
  if (blmPeak[i]) {
    tPeak.forEach(function (t, k) {
      pts.push({ x: t, y: blmPeak[i][k] });
      pts.push({ x: tTrough[k], y: blmTrough[i][k] });
    });
  }
  tAfter.forEach(function (t, k) { pts.push({ x: t, y: blmAfter[i][k] }); });
  return pts;
}

function baseOptions(pad, xScale, yScale) {
  return {
    responsive: false,
    animation: false,
    devicePixelRatio: 1,
    events: [],
    layout: { padding: pad },
    plugins: { legend: { display: false }, tooltip: { enabled: false } },
    scales: { x: xScale, y: yScale }
  };
}

// ---------- panel 1 ----------
padConfig.sigChart = {
  xTicks: tickList(timeMajor, timeMinor, 10, 5), xMajor: timeMajor, xLabels: timeLabels, xLabelGap: 11,
  yTicks: tickList(signalMajor, logMinors(-9, 2), 17, 8.5), yMajor: signalMajor, yLabels: signalLabels,
  yLabelRight: 58.5, plainShift: 0.5,
  xTitle: 'Time', xTitleY: 410, yTitle: 'Signal [Gy/s]', yTitleX: 27,
  title: 'plot vs. time, RS09', titleBox: [9.5, 5.5, 190, 24],
  legend: {
    box: [511.5, -0.5, 240, 369], font: 8.8, y0: 10.7, dy: 11.72,
    lineX: [518, 558], markX: 538, markR: 3.5, textX: 566, marker: 'star',
    rows: blmNames.map(function (n, i) { return { label: n, line: blmColors[i], width: blmWidths[i], mark: blmColors[i] }; })
  }
};

var sigSets = blmNames.map(function (name, i) {
  return {
    label: name,
    data: blmSeries(i),
    borderColor: blmColors[i],
    backgroundColor: blmColors[i],
    borderWidth: blmWidths[i] > 2 ? 1.5 : 1,
    pointStyle: 'star',
    pointRadius: 3.6,
    pointBorderWidth: 1.2,
    pointBorderColor: blmColors[i],
    order: -i
  };
});
sigSets.push({
  label: 'marker', data: xy(markerTime, markerSignal), borderColor: '#000', borderWidth: 1,
  pointRadius: 0, order: -100
});

new Chart(document.getElementById('sigChart'), {
  type: 'line',
  data: { datasets: sigSets },
  options: baseOptions({ left: 75, top: 46, right: 64, bottom: 39 },
    { type: 'linear', min: 22.396, max: 33.415, display: false },
    { type: 'logarithmic', min: 1e-9, max: 1.1e3, display: false }),
  plugins: [rootPad]
});

// ---------- panel 2 ----------
var posTimes = [tcthLuTime, tcthRuTime, tctvbLuTime, tctvbRuTime, tdiLuTime, tdiRuTime];
var posVals = [tcthLuPos, tcthRuPos, tctvbLuPos, tctvbRuPos, tdiLuPos, tdiRuPos];
var posMarkColors = ['#9b3cff', '#3266ff', '#3cf0d2', '#3cf03c', '#f5e600', '#ff2020'];
var posLineColors = ['#9b3cff', '#3266ff', '#7ff5e0', '#3cf03c', '#f8f070', '#ff8080'];
var posLineWidths = [1, 1, 2, 1, 1, 2];

padConfig.posChart = {
  xTicks: tickList(timeMajor, timeMinor, 10, 5), xMajor: timeMajor, xLabels: timeLabels, xLabelGap: 10.5,
  yTicks: tickList(posMajor, minorSteps(-20, 20, 1), 17, 8.5), yMajor: posMajor, yLabels: posLabels,
  yLabelRight: 70.5,
  xTitle: 'Time', xTitleY: 411.5, yTitle: 'position [mm]', yTitleX: 28,
  title: 'collimators position vs time', titleBox: [9.5, 7.5, 277, 25],
  legend: {
    box: [480.5, 6.5, 260, 96], font: 11.6, y0: 13.3, dy: 16,
    lineX: [489, 534], markX: 512, markR: 3.5, textX: 543, marker: 'star',
    rows: posNames.map(function (n, i) { return { label: n, line: posLineColors[i], width: posLineWidths[i], mark: posMarkColors[i] }; })
  }
};

var posSets = posNames.map(function (name, i) {
  return {
    label: name,
    data: xy(posTimes[i], posVals[i]),
    borderColor: posLineColors[i],
    borderWidth: posLineWidths[i],
    pointStyle: 'star',
    pointRadius: 4.2,
    pointBorderWidth: 1.4,
    pointBorderColor: posMarkColors[i],
    pointBackgroundColor: posMarkColors[i],
    order: -i
  };
});
posSets.push({
  label: 'zero', data: xy(zeroTime, zeroPos), borderColor: '#000', borderWidth: 1, pointRadius: 0, order: 10
});

new Chart(document.getElementById('posChart'), {
  type: 'line',
  data: { datasets: posSets },
  options: baseOptions({ left: 75, top: 48, right: 64, bottom: 37 },
    { type: 'linear', min: 22.396, max: 33.415, display: false },
    { type: 'linear', min: -20, max: 20, display: false }),
  plugins: [rootPad]
});

// ---------- panel 3 ----------
padConfig.lossChart = {
  xTicks: tickList(collMajor, minorSteps(3, 9, 0.2), 10, 5), xMajor: collMajor, xLabels: collLabels, xLabelGap: 12.5,
  yTicks: tickList(lossMajor, minorSteps(0, 0.008, 0.0002), 17, 8.5), yMajor: lossMajor, yLabels: lossLabels,
  yLabelRight: 70.5,
  xTitle: 'coll. pos. [mm]', xTitleY: 411.5, yTitle: 'BLM losses [Gy/s]', yTitleX: 28,
  title: 'BLM vs. col. pos.', titleBox: [9.5, 8.5, 175, 24],
  legend: {
    box: [549.5, 7.5, 180, 54], font: 14, y0: 34, dy: 0,
    lineX: [556, 587], markX: 572, markR: 2, textX: 595, marker: 'square',
    rows: [{ label: 'BLM vs. col. pos.', line: '#000', width: 1, mark: '#000' }]
  }
};

new Chart(document.getElementById('lossChart'), {
  type: 'scatter',
  data: {
    datasets: [{
      label: 'BLM vs. col. pos.',
      data: xy(collPos, blmLoss),
      pointStyle: 'rect',
      pointRadius: 3.6,
      pointBorderWidth: 0,
      pointBackgroundColor: '#000',
      pointBorderColor: '#000',
      showLine: false
    }]
  },
  options: baseOptions({ left: 75, top: 49, right: 64, bottom: 36 },
    { type: 'linear', min: 2.99, max: 9.045, display: false },
    { type: 'linear', min: 0, max: 0.008, display: false }),
  plugins: [rootPad]
});
</script>
</body>
</html>
